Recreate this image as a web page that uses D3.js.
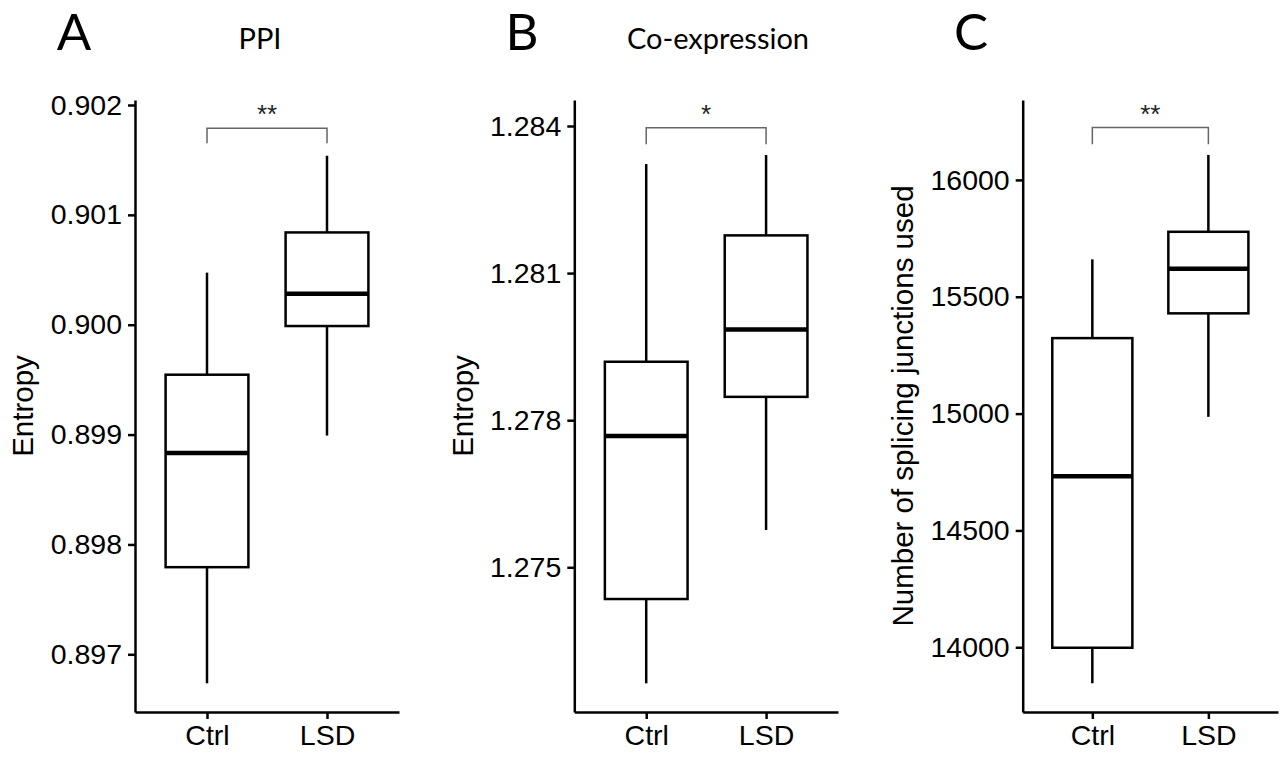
<!DOCTYPE html>
<html>
<head>
<meta charset="utf-8">
<script src="https://cdn.jsdelivr.net/npm/d3@7"></script>
<style>
  html, body { margin: 0; padding: 0; background: #fff; }
  svg { display: block; }
  .tick text { font-family: "Liberation Sans", Arial, sans-serif; }
</style>
</head>
<body>
<svg id="chart" width="1282" height="760"></svg>
<script>
// ---------- data (min, Q1, median, Q3, max) ----------
const groups = ["Ctrl", "LSD"];

const ppiCtrl = [0.896736, 0.897793, 0.898833, 0.899545, 0.900474];
const ppiLSD  = [0.898991, 0.899988, 0.900282, 0.900840, 0.901538];

const coexCtrl = [1.272633, 1.274353, 1.277680, 1.279192, 1.283224];
const coexLSD  = [1.275761, 1.278476, 1.279851, 1.281769, 1.283408];

const sjCtrl = [13846, 13998, 14732, 15323, 15660];
const sjLSD  = [14986, 15429, 15620, 15778, 16107];

const ppiTicks  = [0.897, 0.898, 0.899, 0.900, 0.901, 0.902];
const coexTicks = [1.275, 1.278, 1.281, 1.284];
const sjTicks   = [14000, 14500, 15000, 15500, 16000];

const ppiDomain  = [0.8964748, 0.9020455];
const coexDomain = [1.2720488, 1.2845303];
const sjDomain   = [13723, 16342];

const panelLetters = ["A", "B", "C"];
const panelTitles  = ["PPI", "Co-expression", ""];
const yTitles      = ["Entropy", "Entropy", "Number of splicing junctions used"];
const sigLabels    = ["**", "*", "**"];
// bracket: [top line value, leg end value]
const ppiBracket  = [0.901788, 0.901651];
const coexBracket = [1.283965, 1.283627];
const sjBracket   = [16224, 16153];

// ---------- layout ----------
const svg = d3.select("#chart");
const plotTop = 100, plotBottom = 712;
const lw = 2.5;

const panels = [
  { left: 135, right: 399, stats: [ppiCtrl, ppiLSD], ticks: ppiTicks, domain: ppiDomain,
    fmt: d3.format(".3f"), bracket: ppiBracket, letterX: 74, titleX: 260, yTitleX: 33 },
  { left: 574.3, right: 838, stats: [coexCtrl, coexLSD], ticks: coexTicks, domain: coexDomain,
    fmt: d3.format(".3f"), bracket: coexBracket, letterX: 522, titleX: 718, yTitleX: 473 },
  { left: 1022.7, right: 1278, stats: [sjCtrl, sjLSD], ticks: sjTicks, domain: sjDomain,
    fmt: d3.format("d"), bracket: sjBracket, letterX: 971, titleX: null, yTitleX: 913 }
];

panels.forEach((p, i) => {
  const g = svg.append("g");
  const x = d3.scalePoint().domain(groups).range([p.left, p.right]).padding(0.6);
  const y = d3.scaleLinear().domain(p.domain).range([plotBottom, plotTop]);
  const step = x.step();
  const bw = step * 0.69;

  // y axis
  const yAx = g.append("g").attr("transform", `translate(${p.left},0)`)
    .call(d3.axisLeft(y).tickValues(p.ticks).tickFormat(p.fmt).tickSize(7).tickSizeOuter(0).tickPadding(6));
  yAx.select(".domain").attr("stroke", "#000").attr("stroke-width", lw);
  yAx.selectAll(".tick line").attr("stroke", "#000").attr("stroke-width", lw);
  yAx.selectAll(".tick text").attr("font-size", 28.5).attr("fill", "#000");

  // x axis
  const xAx = g.append("g").attr("transform", `translate(0,${plotBottom})`)
    .call(d3.axisBottom(x).tickSize(7).tickSizeOuter(0).tickPadding(6));
  xAx.select(".domain").attr("stroke", "#000").attr("stroke-width", lw);
  xAx.selectAll(".tick line").attr("stroke", "#000").attr("stroke-width", lw);
  xAx.selectAll(".tick text").attr("font-size", 28.5).attr("fill", "#000");

  // boxes
  groups.forEach((grp, j) => {
    const s = p.stats[j];
    const cx = x(grp);
    g.append("line").attr("x1", cx).attr("x2", cx).attr("y1", y(s[0])).attr("y2", y(s[1]))
      .attr("stroke", "#000").attr("stroke-width", lw);
    g.append("line").attr("x1", cx).attr("x2", cx).attr("y1", y(s[3])).attr("y2", y(s[4]))
      .attr("stroke", "#000").attr("stroke-width", lw);
    g.append("rect").attr("x", cx - bw / 2).attr("width", bw)
      .attr("y", y(s[3])).attr("height", y(s[1]) - y(s[3]))
      .attr("fill", "#fff").attr("stroke", "#000").attr("stroke-width", lw);
    g.append("line").attr("x1", cx - bw / 2).attr("x2", cx + bw / 2)
      .attr("y1", y(s[2])).attr("y2", y(s[2]))
      .attr("stroke", "#000").attr("stroke-width", 4.5);
  });

  // significance bracket
  const x1 = x(groups[0]), x2 = x(groups[1]);
  const yb = y(p.bracket[0]), ye = y(p.bracket[1]);
  g.append("path")
    .attr("d", `M${x1},${ye}V${yb}H${x2}V${ye}`)
    .attr("fill", "none").attr("stroke", "#666").attr("stroke-width", 1.5);
  g.append("text").attr("x", (x1 + x2) / 2).attr("y", yb - 5)
    .attr("text-anchor", "middle")
    .attr("font-family", "Liberation Sans, Arial, sans-serif")
    .attr("font-size", 26).attr("fill", "#222")
    .text(sigLabels[i]);

  // y title
  g.append("text")
    .attr("transform", `translate(${p.yTitleX},${(plotTop + plotBottom) / 2}) rotate(-90)`)
    .attr("text-anchor", "middle")
    .attr("font-family", "Liberation Sans, Arial, sans-serif")
    .attr("font-size", 29.5).attr("fill", "#000")
    .text(yTitles[i]);

  // panel letter
  g.append("text").attr("x", p.letterX).attr("y", 50)
    .attr("text-anchor", "middle")
    .attr("font-family", "Lato, 'Open Sans', sans-serif")
    .attr("font-size", 51).attr("fill", "#000")
    .text(panelLetters[i]);

  // panel title
  if (panelTitles[i]) {
    g.append("text").attr("x", p.titleX).attr("y", 49)
      .attr("text-anchor", "middle")
      .attr("font-family", "Lato, 'Open Sans', sans-serif")
      .attr("font-size", 29).attr("fill", "#000")
      .text(panelTitles[i]);
  }
});
</script>
</body>
</html>
